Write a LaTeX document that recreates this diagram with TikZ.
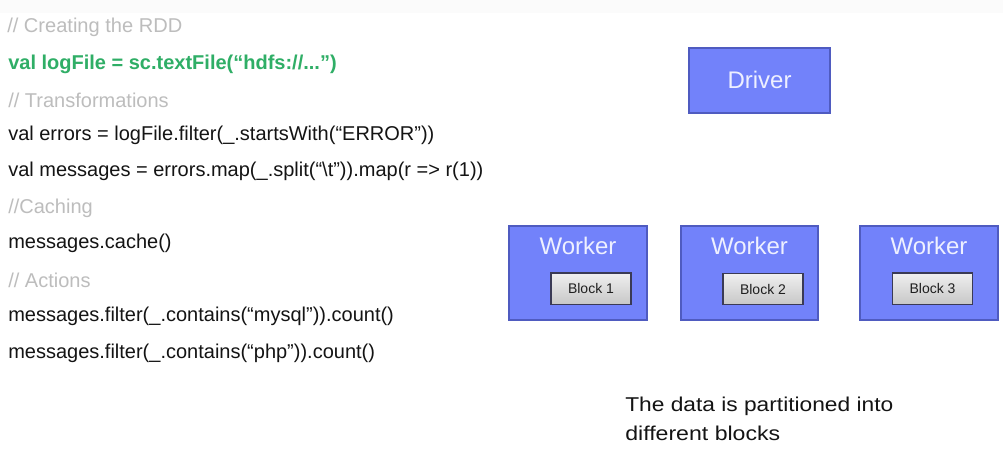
\documentclass[tikz,border=0pt]{standalone}
\usepackage{graphicx}
\usepackage{fontspec}
\setmainfont{Liberation Sans}
\definecolor{boxfill}{HTML}{7282FA}
\definecolor{boxline}{HTML}{4F5BC0}
\definecolor{codegreen}{HTML}{2FAE66}
\definecolor{commentgray}{HTML}{BDBDBD}
\definecolor{codeblack}{HTML}{141414}
\definecolor{boxtext}{HTML}{EEF0FF}
\definecolor{blkline}{HTML}{3A3A55}
\tikzset{
  codeline/.style={anchor=west, inner sep=0pt, font=\fontsize{15}{17}\selectfont, text=codeblack},
  comment/.style={codeline, text=commentgray},
  greenline/.style={codeline, text=codegreen, font=\fontsize{15}{17}\selectfont\bfseries},
  machine/.style={draw=boxline, line width=1.2pt, fill=boxfill, inner sep=0pt},
  boxlabel/.style={text=boxtext, inner sep=0pt, font=\fontsize{18}{20}\selectfont},
  blockbox/.style={draw=blkline, line width=1pt, top color=white!94!black, bottom color=white!78!black, minimum width=60pt, minimum height=23.5pt, inner sep=0pt, font=\fontsize{10.5}{12}\selectfont, text=black!88},
  note/.style={anchor=west, inner sep=0pt, font=\fontsize{15}{17}\selectfont, text=codeblack}
}
\begin{document}
\begin{tikzpicture}[x=0.75pt, y=-0.75pt]
\useasboundingbox (0,0) rectangle (1003,451);
\fill[white] (0,0) rectangle (1003,451);
\fill[black!1.5] (0,0) rectangle (1003,13);
% code
\node[comment]   (c1) at (7,27)  {\resizebox{131.25pt}{\height}{// Creating the RDD}};
\node[greenline] (c2) at (8,64)  {val logFile = sc.textFile(“hdfs://...”)};
\node[comment]   (c3) at (8,100) {// Transformations};
\node[codeline]  (c4) at (8,135) {val errors = logFile.filter(\_.startsWith(“ERROR”))};
\node[codeline]  (c5) at (8,171) {val messages = errors.map(\_.split(“\textbackslash t”)).map(r => r(1))};
\node[comment]   (c6) at (8,208) {//Caching};
\node[codeline]  (c7) at (8,243) {messages.cache()};
\node[comment]   (c8) at (8,280) {// Actions};
\node[codeline]  (c9) at (8,316) {messages.filter(\_.contains(“mysql”)).count()};
\node[codeline]  (c10) at (8,353) {messages.filter(\_.contains(“php”)).count()};
% machines
\draw[machine] (689,48) rectangle (830,113);
\node[boxlabel] (driver) at (759.5,80) {Driver};
\draw[machine] (509,226) rectangle (647,320);
\draw[machine] (681,226) rectangle (818,320);
\draw[machine] (860,226) rectangle (998,320);
\node[boxlabel] (w1) at (578,246) {Worker};
\node[boxlabel] (w2) at (749.5,246) {Worker};
\node[boxlabel] (w3) at (929,246) {Worker};
\node[blockbox] (b1) at (591,288.5) {Block 1};
\node[blockbox] (b2) at (763,289) {Block 2};
\node[blockbox] (b3) at (932.5,288.5) {Block 3};
% note
\node[note] (n1) at (625,406) {\resizebox{201pt}{\height}{The data is partitioned into}};
\node[note] (n2) at (625,433) {\resizebox{116.25pt}{\height}{different blocks}};
\end{tikzpicture}
\end{document}
